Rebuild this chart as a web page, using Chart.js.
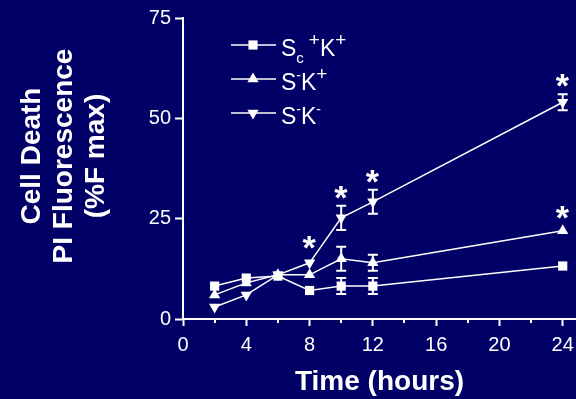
<!DOCTYPE html>
<html>
<head>
<meta charset="utf-8">
<script src="https://cdn.jsdelivr.net/npm/chart.js@4/dist/chart.umd.min.js"></script>
<style>
    html, body { margin: 0; padding: 0; background: #000066; }
    #wrap { width: 576px; height: 399px; }
</style>
</head>
<body>
<div id="wrap"><canvas id="deathChart" width="576" height="399"></canvas></div>
<script>
const hours = [2, 4, 6, 8, 10, 12, 24];

const scKpValues = [8.2, 10.2, 10.7, 7.1, 8.2, 8.2, 13.2];
const scKpErrors = [0, 0, 0, 0, 2, 2, 0];
const sKpValues = [6, 9, 11, 11, 15, 14, 22];
const sKpErrors = [0, 0, 0, 0, 3, 2, 0];
const sKmValues = [3, 6, 11, 14, 25.2, 29.2, 54];
const sKmErrors = [0, 0, 0, 0, 3, 3, 2];

// significance marks (*)
const starHours = [8, 10, 12, 24, 24];
const starLevels = [19, 31.5, 35.5, 59.5, 26.5];

const xTicks = [0, 4, 8, 12, 16, 20, 24];
const xMinorTicks = [2, 6, 10, 14, 18, 22];
const yTicks = [0, 25, 50, 75];

const xTitle = "Time (hours)";
const yTitle = ["Cell Death", "PI Fluorescence", "(%F max)"];

// legend labels, pieces: [text, "sub" | "sup" | ""]
const legendLabels = [
    [["S", ""], ["c", "sub"], ["+", "sup"], ["K", ""], ["+", "sup"]],
    [["S", ""], ["-", "sup"], ["K", ""], ["+", "sup"]],
    [["S", ""], ["-", "sup"], ["K", ""], ["-", "sup"]]
];

const FONT = "'Liberation Sans', Arial, sans-serif";
const WHITE = "#ffffff";

function points(values) {
    return hours.map((h, i) => ({ x: h, y: values[i] }));
}

function drawMarker(ctx, style, x, y, r) {
    ctx.beginPath();
    if (style === "rect") {
        const s = r * Math.SQRT1_2;
        ctx.rect(x - s, y - s, 2 * s, 2 * s);
    } else {
        const dir = style === "down" ? -1 : 1;
        for (let k = 0; k < 3; k++) {
            const a = (k * 2 * Math.PI) / 3;
            const px = x + Math.sin(a) * r;
            const py = y - dir * Math.cos(a) * r;
            if (k === 0) ctx.moveTo(px, py); else ctx.lineTo(px, py);
        }
        ctx.closePath();
    }
    ctx.fill();
}

const errorBarPlugin = {
    id: "errorBars",
    afterDatasetsDraw(chart) {
        const ctx = chart.ctx;
        const yScale = chart.scales.y;
        ctx.save();
        ctx.strokeStyle = WHITE;
        ctx.lineWidth = 2;
        chart.data.datasets.forEach((ds, di) => {
            const meta = chart.getDatasetMeta(di);
            ds.errors.forEach((err, i) => {
                if (!err) return;
                const el = meta.data[i];
                const top = yScale.getPixelForValue(ds.data[i].y + err);
                const bottom = yScale.getPixelForValue(ds.data[i].y - err);
                ctx.beginPath();
                ctx.moveTo(el.x, top);
                ctx.lineTo(el.x, bottom);
                ctx.moveTo(el.x - 5, top);
                ctx.lineTo(el.x + 5, top);
                ctx.moveTo(el.x - 5, bottom);
                ctx.lineTo(el.x + 5, bottom);
                ctx.stroke();
            });
        });

        // asterisks
        ctx.fillStyle = WHITE;
        ctx.font = "bold 34px " + FONT;
        ctx.textAlign = "center";
        ctx.textBaseline = "alphabetic";
        const m = ctx.measureText("*");
        const lift = (m.actualBoundingBoxAscent - m.actualBoundingBoxDescent) / 2;
        const shift = (m.actualBoundingBoxLeft - m.actualBoundingBoxRight) / 2;
        starHours.forEach((h, i) => {
            const x = chart.scales.x.getPixelForValue(h);
            const y = yScale.getPixelForValue(starLevels[i]);
            ctx.fillText("*", x + shift, y + lift);
        });
        ctx.restore();
    }
};

const decorPlugin = {
    id: "decor",
    afterDraw(chart) {
        const ctx = chart.ctx;
        const xScale = chart.scales.x;
        const bottom = chart.chartArea.bottom;
        ctx.save();
        ctx.strokeStyle = WHITE;
        ctx.fillStyle = WHITE;

        // minor x ticks
        ctx.lineWidth = 2;
        xMinorTicks.forEach(v => {
            const x = Math.round(xScale.getPixelForValue(v));
            ctx.beginPath();
            ctx.moveTo(x, bottom);
            ctx.lineTo(x, bottom + 4);
            ctx.stroke();
        });

        // y axis title, rotated, three lines
        ctx.font = "bold 28px " + FONT;
        ctx.textAlign = "center";
        ctx.textBaseline = "alphabetic";
        yTitle.forEach((line, i) => {
            ctx.save();
            ctx.translate(40 + i * 32, 156);
            ctx.rotate(-Math.PI / 2);
            ctx.fillText(line, 0, 0);
            ctx.restore();
        });

        // legend
        const styles = chart.data.datasets.map(ds => ds.markerStyle);
        legendLabels.forEach((parts, i) => {
            const lineY = 45 + i * 34;
            ctx.lineWidth = 1.5;
            ctx.beginPath();
            ctx.moveTo(231, lineY);
            ctx.lineTo(276, lineY);
            ctx.stroke();
            drawMarker(ctx, styles[i], 253, lineY, 6.5);

            let x = 281;
            const base = lineY + 11;
            ctx.textAlign = "left";
            parts.forEach(([text, kind]) => {
                let y = base;
                if (kind === "sub") {
                    ctx.font = "15px " + FONT;
                    y = base + 7;
                } else if (kind === "sup") {
                    ctx.font = (text === "-" ? "14px " : "19px ") + FONT;
                    y = base - 10;
                } else {
                    ctx.font = "23px " + FONT;
                }
                ctx.fillText(text, x, y);
                x += ctx.measureText(text).width + (kind === "sub" ? 5 : 0);
            });
        });
        ctx.restore();
    }
};

const ctx = document.getElementById("deathChart").getContext("2d");

new Chart(ctx, {
    type: "line",
    data: {
        datasets: [
            {
                label: "Sc+K+",
                data: points(scKpValues),
                errors: scKpErrors,
                markerStyle: "rect",
                pointStyle: "rect",
                pointRotation: 0,
                pointRadius: 6.5
            },
            {
                label: "S-K+",
                data: points(sKpValues),
                errors: sKpErrors,
                markerStyle: "up",
                pointStyle: "triangle",
                pointRotation: 0,
                pointRadius: 6.5
            },
            {
                label: "S-K-",
                data: points(sKmValues),
                errors: sKmErrors,
                markerStyle: "down",
                pointStyle: "triangle",
                pointRotation: 180,
                pointRadius: 6.5
            }
        ].map(ds => Object.assign(ds, {
            borderColor: WHITE,
            backgroundColor: WHITE,
            pointBackgroundColor: WHITE,
            pointBorderColor: WHITE,
            pointBorderWidth: 0,
            borderWidth: 1.5,
            tension: 0,
            fill: false
        }))
    },
    options: {
        responsive: false,
        animation: false,
        layout: {
            autoPadding: false,
            padding: { left: 0, top: 18, right: 0, bottom: 0 }
        },
        scales: {
            x: {
                type: "linear",
                min: 0,
                max: 24.84,
                afterBuildTicks: scale => {
                    scale.ticks = xTicks.map(v => ({ value: v }));
                },
                afterFit: scale => {
                    scale.height = 80;
                    scale.paddingLeft = 0;
                    scale.paddingRight = 0;
                },
                border: { display: true, color: WHITE, width: 2 },
                grid: {
                    drawOnChartArea: false,
                    drawTicks: true,
                    tickLength: 7,
                    tickColor: WHITE,
                    tickWidth: 2
                },
                ticks: {
                    color: WHITE,
                    padding: 7,
                    autoSkip: false,
                    maxRotation: 0,
                    font: { family: FONT, size: 20 }
                },
                title: {
                    display: true,
                    text: xTitle,
                    color: WHITE,
                    padding: { top: 0, bottom: 0 },
                    font: { family: FONT, size: 28, weight: "bold" }
                }
            },
            y: {
                min: 0,
                max: 75,
                afterBuildTicks: scale => {
                    scale.ticks = yTicks.map(v => ({ value: v }));
                },
                afterFit: scale => {
                    scale.width = 183;
                    scale.paddingTop = 0;
                    scale.paddingBottom = 0;
                },
                border: { display: true, color: WHITE, width: 2 },
                grid: {
                    drawOnChartArea: false,
                    drawTicks: true,
                    tickLength: 8,
                    tickColor: WHITE,
                    tickWidth: 2
                },
                ticks: {
                    color: WHITE,
                    padding: 4,
                    font: { family: FONT, size: 20 }
                }
            }
        },
        plugins: {
            legend: { display: false },
            tooltip: { enabled: false }
        }
    },
    plugins: [errorBarPlugin, decorPlugin]
});
</script>
</body>
</html>
